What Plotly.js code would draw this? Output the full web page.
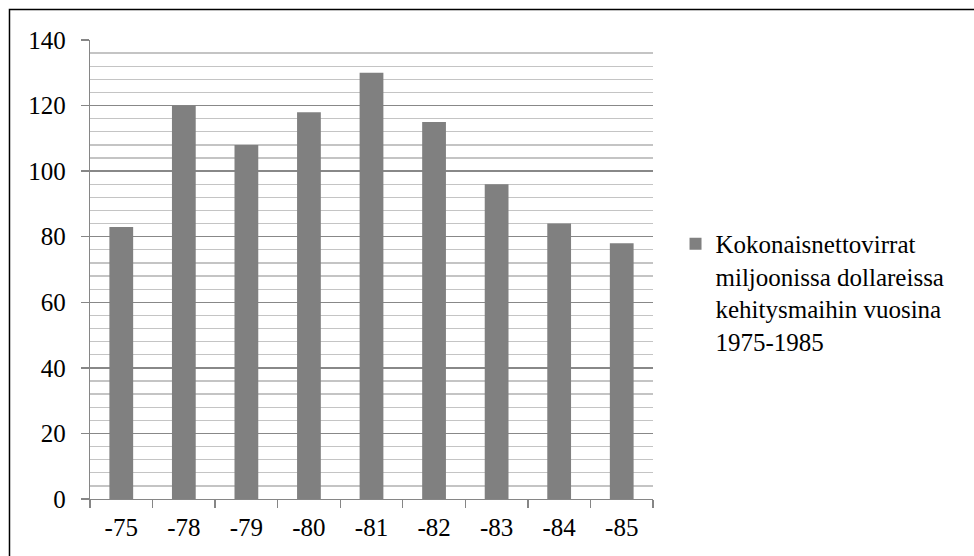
<!DOCTYPE html>
<html>
<head>
<meta charset="utf-8">
<script src="https://cdn.plot.ly/plotly-3.0.1.min.js"></script>
<style>
html,body{margin:0;padding:0;background:#fff;}
#chart{width:974px;height:556px;}
</style>
</head>
<body>
<div id="chart"></div>
<script>
const categories = ["-75", "-78", "-79", "-80", "-81", "-82", "-83", "-84", "-85"];
const values = [83, 120, 108, 118, 130, 115, 96, 84, 78];
const seriesName = "Kokonaisnettovirrat<br>miljoonissa dollareissa<br>kehitysmaihin vuosina<br>1975-1985";

function serif() { return {family: "Liberation Serif", size: 25, color: "#000000"}; }

const trace = {
  type: "bar",
  x: categories,
  y: values,
  name: seriesName,
  marker: {color: "#808080", line: {width: 0}},
  showlegend: true
};

const layout = {
  width: 974,
  height: 556,
  margin: {l: 90, r: 321, t: 40, b: 57},
  paper_bgcolor: "#fff",
  plot_bgcolor: "#fff",
  font: serif(),
  bargap: 0.62,
  showlegend: true,
  xaxis: {
    type: "category", showline: true, linecolor: "#868686", linewidth: 1.3,
    ticks: "outside", tickson: "boundaries", ticklen: 8, tickcolor: "#868686", tickwidth: 1.3,
    showgrid: false, tickfont: serif(), ticklabelstandoff: 6, fixedrange: true
  },
  yaxis: {
    range: [0, 140], dtick: 20, tick0: 0, showline: true, linecolor: "#868686", linewidth: 1.3,
    ticks: "outside", ticklen: 8, tickcolor: "#868686", tickwidth: 1.3,
    showgrid: true, gridcolor: "#888888", gridwidth: 1.3, zeroline: false,
    tickfont: serif(), ticklabelstandoff: 10,
    minor: {dtick: 4, showgrid: true, gridcolor: "#c4c4c4", gridwidth: 1.3, ticks: ""},
    fixedrange: true
  },
  legend: {
    x: 1.04, xanchor: "left", y: 0.45, yanchor: "middle", valign: "top",
    font: serif(), bgcolor: "rgba(0,0,0,0)", tracegroupgap: 0
  },
  annotations: [
    {xref: "paper", yref: "paper", x: 1.12, y: 0.15, xanchor: "left", showarrow: false, text: "&nbsp;", font: serif()}
  ],
  shapes: [{
    type: "rect", xref: "paper", yref: "paper",
    x0: -0.143, x1: 2, y0: -1, y1: 1.0664,
    line: {color: "#000", width: 1.5}, fillcolor: "rgba(0,0,0,0)", layer: "above"
  }]
};

Plotly.newPlot("chart", [trace], layout, {staticPlot: true, displayModeBar: false}).then(function (gd) {
  return Plotly.redraw(gd);
});
</script>
</body>
</html>
